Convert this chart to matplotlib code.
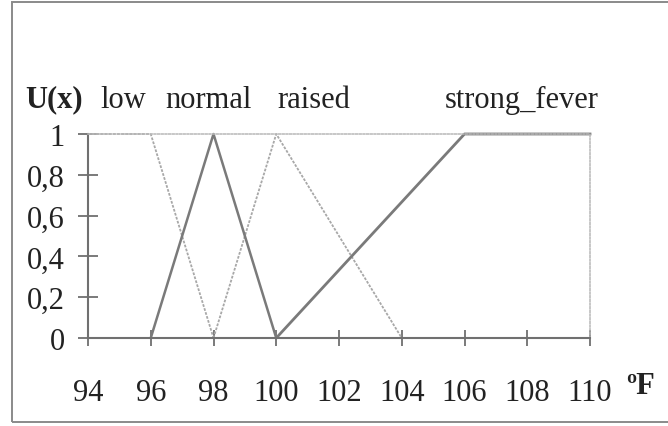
import matplotlib
matplotlib.use("Agg")
import matplotlib.pyplot as plt
from matplotlib.patches import Rectangle

# Data
low_x = [94, 96, 98]
low_y = [1, 1, 0]
normal_x = [96, 98, 100]
normal_y = [0, 1, 0]
raised_x = [98, 100, 104]
raised_y = [0, 1, 0]
strong_x = [100, 106, 110]
strong_y = [0, 1, 1]
x_ticks = [94, 96, 98, 100, 102, 104, 106, 108, 110]
y_ticks = [0, 0.2, 0.4, 0.6, 0.8, 1]
y_ticklabels = ["0", "0,2", "0,4", "0,6", "0,8", "1"]
series_names = ["low", "normal", "raised", "strong_fever"]

plt.rcParams['font.family'] = ['Liberation Serif', 'DejaVu Serif']
FS = 22

fig = plt.figure(figsize=(6.68, 4.27), dpi=100)
fig.patch.set_facecolor('white')
W, H = 668, 427

# outer frame
fig.patches.append(Rectangle((12 / W, 4 / H), 1.0, (423 - 3) / H, transform=fig.transFigure,
                             fill=False, edgecolor='#8a8a8a', linewidth=1.4, clip_on=False))

ax = fig.add_axes([88 / W, (H - 339) / H, 502 / W, 204 / H])
ax.set_xlim(94, 110)
ax.set_ylim(0, 1)
for s in ['top', 'right']:
    ax.spines[s].set_visible(True)
    ax.spines[s].set_color('#b8b8b8')
    ax.spines[s].set_linestyle((0, (1.2, 1.2)))
    ax.spines[s].set_linewidth(1.1)
for s in ['left', 'bottom']:
    ax.spines[s].set_color('#707070')
    ax.spines[s].set_linewidth(1.5)

light = '#a8a8a8'
dark = '#7a7a7a'
ax.plot(low_x, low_y, color=light, lw=1.3, linestyle=(0, (1.5, 0.8)), clip_on=False)
ax.plot(raised_x, raised_y, color=light, lw=1.3, linestyle=(0, (1.5, 0.8)), clip_on=False)
ax.plot(normal_x, normal_y, color=dark, lw=1.8, clip_on=False)
ax.plot(strong_x, strong_y, color=dark, lw=2.0, clip_on=False)

ax.set_xticks(x_ticks)
ax.set_xticklabels([str(t) for t in x_ticks], fontsize=FS, color='#222222')
ax.set_yticks(y_ticks)
ax.set_yticklabels(y_ticklabels, fontsize=FS, color='#222222')
ax.tick_params(axis='y', direction='inout', length=14.4, width=1.3, color='#707070', pad=9.4)
ax.tick_params(axis='x', direction='inout', length=11, width=1.3, color='#707070', pad=23)

# header labels
fig.text(25 / W, 1 - 100 / H, "U(x)", fontsize=FS, fontweight='bold', va='center', ha='left', color='#222222')
pos = [100, 165, 277, 445]
for name, px in zip(series_names, pos):
    fig.text(px / W, 1 - 100 / H, name, fontsize=FS, va='center', ha='left', color='#222222')
fig.text(626 / W, 1 - 387 / H, "\u00baF", fontsize=FS, fontweight='bold', va='center', ha='left', color='#222222')

fig.savefig("out.png", dpi=100, facecolor='white')
